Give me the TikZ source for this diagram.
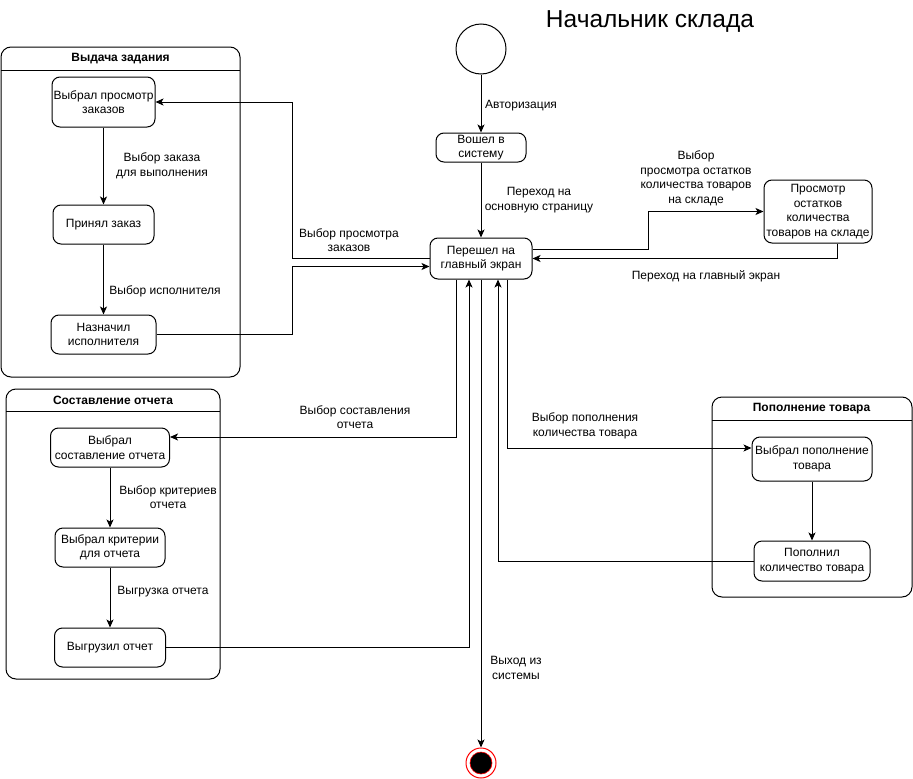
\documentclass[tikz,border=0pt]{standalone}
\usepackage{fontspec}
\setmainfont{Liberation Sans}
\usetikzlibrary{arrows.meta}
\begin{document}
\begin{tikzpicture}[x=1pt,y=-1pt,
  every node/.style={font=\fontsize{12}{14.5}\selectfont},
  state/.style={draw,rounded corners=8pt,line width=1pt,align=center,inner sep=1pt,fill=white},
  grp/.style={draw,rounded corners=10pt,line width=1pt},
  lbl/.style={align=center,inner sep=0pt},
  gtitle/.style={font=\bfseries\fontsize{12}{14}\selectfont,inner sep=0pt},
  arr/.style={line width=1pt,-{Stealth[length=8pt,width=7pt,inset=2pt]}},
  ln/.style={line width=1pt}]
\useasboundingbox (0,0) rectangle (913,779);
\node[inner sep=0pt,font=\fontsize{24.5}{28}\selectfont] (title) at (650,22) {Начальник склада};
% groups
\node[grp,minimum width=239,minimum height=330] (g1) at (120.5,212) {};
\draw[ln] (1,70) -- (240,70);
\node[gtitle] (g1t) at (120.5,58.5) {Выдача задания};
\node[grp,minimum width=214,minimum height=290] (g2) at (113,534) {};
\draw[ln] (6,411) -- (220,411);
\node[gtitle] (g2t) at (113,400) {Составление отчета};
\node[grp,minimum width=200,minimum height=200] (g3) at (812,497) {};
\draw[ln] (712,420) -- (912,420);
\node[gtitle] (g3t) at (811.5,408.5) {Пополнение товара};
% states
\node[draw,circle,line width=1pt,minimum size=50,inner sep=0pt] (init) at (481,49) {};
\node[state,minimum width=90,minimum height=29] (voshel) at (481,147.5) {Вошел в\\систему};
\node[state,minimum width=102,minimum height=41] (main) at (481,258.5) {Перешел на\\главный экран};
\node[state,minimum width=103,minimum height=50] (vp) at (103.5,102) {Выбрал просмотр\\заказов};
\node[state,minimum width=101,minimum height=39] (pz) at (103.5,224.5) {Принял заказ};
\node[state,minimum width=105,minimum height=39] (ni) at (103.5,334.5) {Назначил\\исполнителя};
\node[state,minimum width=108,minimum height=63] (po) at (818,211.5) {Просмотр\\остатков\\количества\\товаров на складе};
\node[state,minimum width=119,minimum height=39] (vs) at (110,447.5) {Выбрал\\составление отчета};
\node[state,minimum width=110,minimum height=39] (vk) at (110,547.5) {Выбрал критерии\\для отчета};
\node[state,minimum width=111,minimum height=39] (vo) at (110,647.5) {Выгрузил отчет};
\node[state,minimum width=120,minimum height=44] (vpp) at (812,459) {Выбрал пополнение\\товара};
\node[state,minimum width=116,minimum height=40] (pk) at (812,561) {Пополнил\\количество товара};
\node[draw=red,circle,line width=1pt,minimum size=30,inner sep=0pt,fill=white] (final) at (481,763) {};
\node[draw=red,circle,line width=0.6pt,minimum size=22,inner sep=0pt,fill=black] (finalin) at (481,763) {};
% connectors
\draw[arr] (init) -- (voshel);
\draw[arr] (voshel) -- (main);
\draw[arr] (main.west) -- (292,258.5) |- (vp.east);
\draw[arr] (ni.east) -- (292,334.5) |- ([yshift=-8]main.west);
\draw[arr] (vp) -- (pz);
\draw[arr] (pz) -- (ni);
\draw[arr] ([yshift=9.5]main.east) -- (648,249) |- (po.west);
\draw[arr] ([xshift=19]po.south) |- (main.east);
\draw[arr] ([xshift=-25]main.south) |- ([yshift=10.5]vs.east);
\draw[arr] (vs) -- (vk);
\draw[arr] (vk) -- (vo);
\draw[arr] (vo.east) -| ([xshift=-12]main.south);
\draw[arr] ([xshift=26]main.south) |- ([yshift=11]vpp.west);
\draw[arr] (vpp) -- (pk);
\draw[arr] (pk.west) -| ([xshift=17]main.south);
\draw[arr] (main.south) -- (final);
% labels
\node[lbl,anchor=west] (l1) at (485,106) {Авторизация};
\node[lbl] (l2) at (539,200) {Переход на\\основную страницу};
\node[lbl] (l3) at (349,240) {Выбор просмотра\\заказов};
\node[lbl] (l4) at (162,166) {Выбор заказа\\для выполнения};
\node[lbl] (l5) at (165,291) {Выбор исполнителя};
\node[lbl] (l6) at (696,178.5) {Выбор\\просмотра остатков\\количества товаров\\на складе};
\node[lbl] (l7) at (706,276) {Переход на главный экран};
\node[lbl] (l8) at (355,417) {Выбор составления\\отчета};
\node[lbl] (l9) at (168,497) {Выбор критериев\\отчета};
\node[lbl] (l10) at (163,592) {Выгрузка отчета};
\node[lbl] (l11) at (585,426) {Выбор пополнения\\количества товара};
\node[lbl] (l12) at (516,668) {Выход из\\системы};
\end{tikzpicture}
\end{document}
